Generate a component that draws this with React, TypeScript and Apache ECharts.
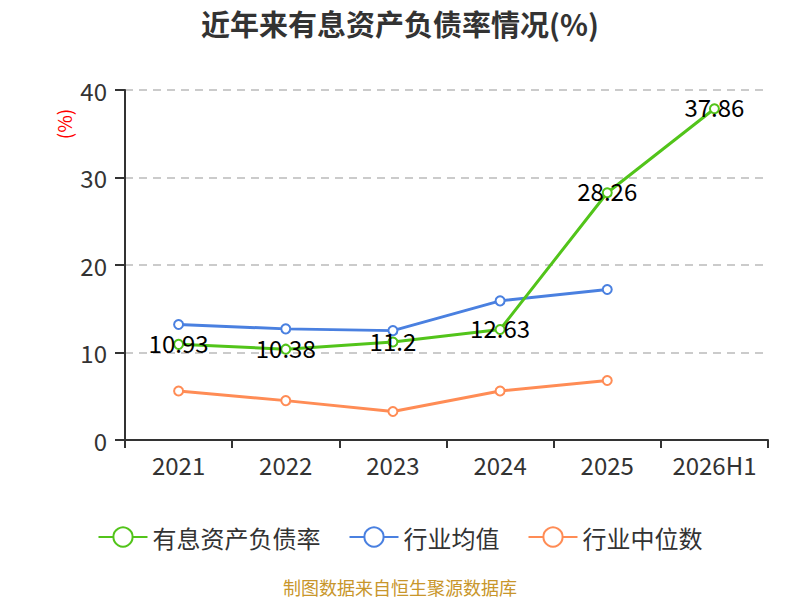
import React, { useEffect, useRef } from "react";
import * as echarts from "echarts";

const categories = ["2021", "2022", "2023", "2024", "2025", "2026H1"];
const debtRatio = [10.93, 10.38, 11.2, 12.63, 28.26, 37.86];
const industryAvg = [13.2, 12.7, 12.5, 15.9, 17.2];
const industryMedian = [5.6, 4.5, 3.25, 5.6, 6.8];
const yTicks = { min: 0, max: 40, interval: 10 };

export default function App() {
  const ref = useRef<HTMLDivElement>(null);
  useEffect(() => {
    document.body.style.margin = "0";
    const chart = echarts.init(ref.current!, undefined, { renderer: "svg" });
    const font = "'Noto Sans CJK SC', 'Noto Sans', sans-serif";
    chart.setOption({
      animation: false,
      textStyle: { fontFamily: font },
      title: {
        text: "近年来有息资产负债率情况(%)",
        left: "center",
        top: 3,
        textStyle: { fontSize: 29, fontWeight: "bold", color: "#333", fontFamily: font },
      },
      grid: { left: 125, right: 32, top: 90, bottom: 160 },
      legend: {
        bottom: 46,
        left: "center",
        itemWidth: 49,
        itemHeight: 24,
        itemGap: 28,
        textStyle: { fontSize: 24, color: "#333", fontFamily: font },
        data: ["有息资产负债率", "行业均值", "行业中位数"],
      },
      graphic: [
        {
          type: "text",
          x: 63,
          y: 124,
          rotation: Math.PI / 2,
          style: {
            text: "(%)",
            fill: "#ff0000",
            fontSize: 19,
            fontFamily: font,
            align: "center",
            verticalAlign: "middle",
          },
        },
        {
          type: "text",
          left: "center",
          top: 578,
          style: {
            text: "制图数据来自恒生聚源数据库",
            fill: "#c8962b",
            fontSize: 18,
            fontFamily: font,
          },
        },
      ],
      xAxis: {
        type: "category",
        data: categories,
        boundaryGap: true,
        axisLine: { lineStyle: { color: "#333", width: 2 } },
        axisTick: { show: true, interval: 0, length: 8, lineStyle: { color: "#333", width: 2 } },
        axisLabel: { interval: 0, fontSize: 24, color: "#333", margin: 12, fontFamily: font },
      },
      yAxis: {
        type: "value",
        min: yTicks.min,
        max: yTicks.max,
        interval: yTicks.interval,
        axisLine: { show: true, lineStyle: { color: "#333", width: 2 } },
        axisTick: { show: true, length: 10, lineStyle: { color: "#333", width: 2 } },
        axisLabel: { fontSize: 24, color: "#333", margin: 18, fontFamily: font },
        splitLine: { lineStyle: { type: [8, 6], color: "#bbb", width: 1.5 } },
      },
      series: [
        {
          name: "有息资产负债率",
          type: "line",
          data: debtRatio,
          symbol: "emptyCircle",
          symbolSize: 9,
          lineStyle: { width: 3, color: "#52c41a" },
          itemStyle: { color: "#52c41a", borderWidth: 2 },
          label: {
            show: true,
            position: "inside",
            offset: [0, -2],
            fontSize: 24,
            color: "#000",
            fontFamily: font,
          },
          z: 3,
        },
        {
          name: "行业均值",
          type: "line",
          data: industryAvg,
          symbol: "emptyCircle",
          symbolSize: 9,
          lineStyle: { width: 3, color: "#4a80e0" },
          itemStyle: { color: "#4a80e0", borderWidth: 2 },
          z: 2,
        },
        {
          name: "行业中位数",
          type: "line",
          data: industryMedian,
          symbol: "emptyCircle",
          symbolSize: 9,
          lineStyle: { width: 3, color: "#ff8c55" },
          itemStyle: { color: "#ff8c55", borderWidth: 2 },
          z: 2,
        },
      ],
    });
    return () => chart.dispose();
  }, []);
  return <div ref={ref} style={{ width: 800, height: 600 }} />;
}
